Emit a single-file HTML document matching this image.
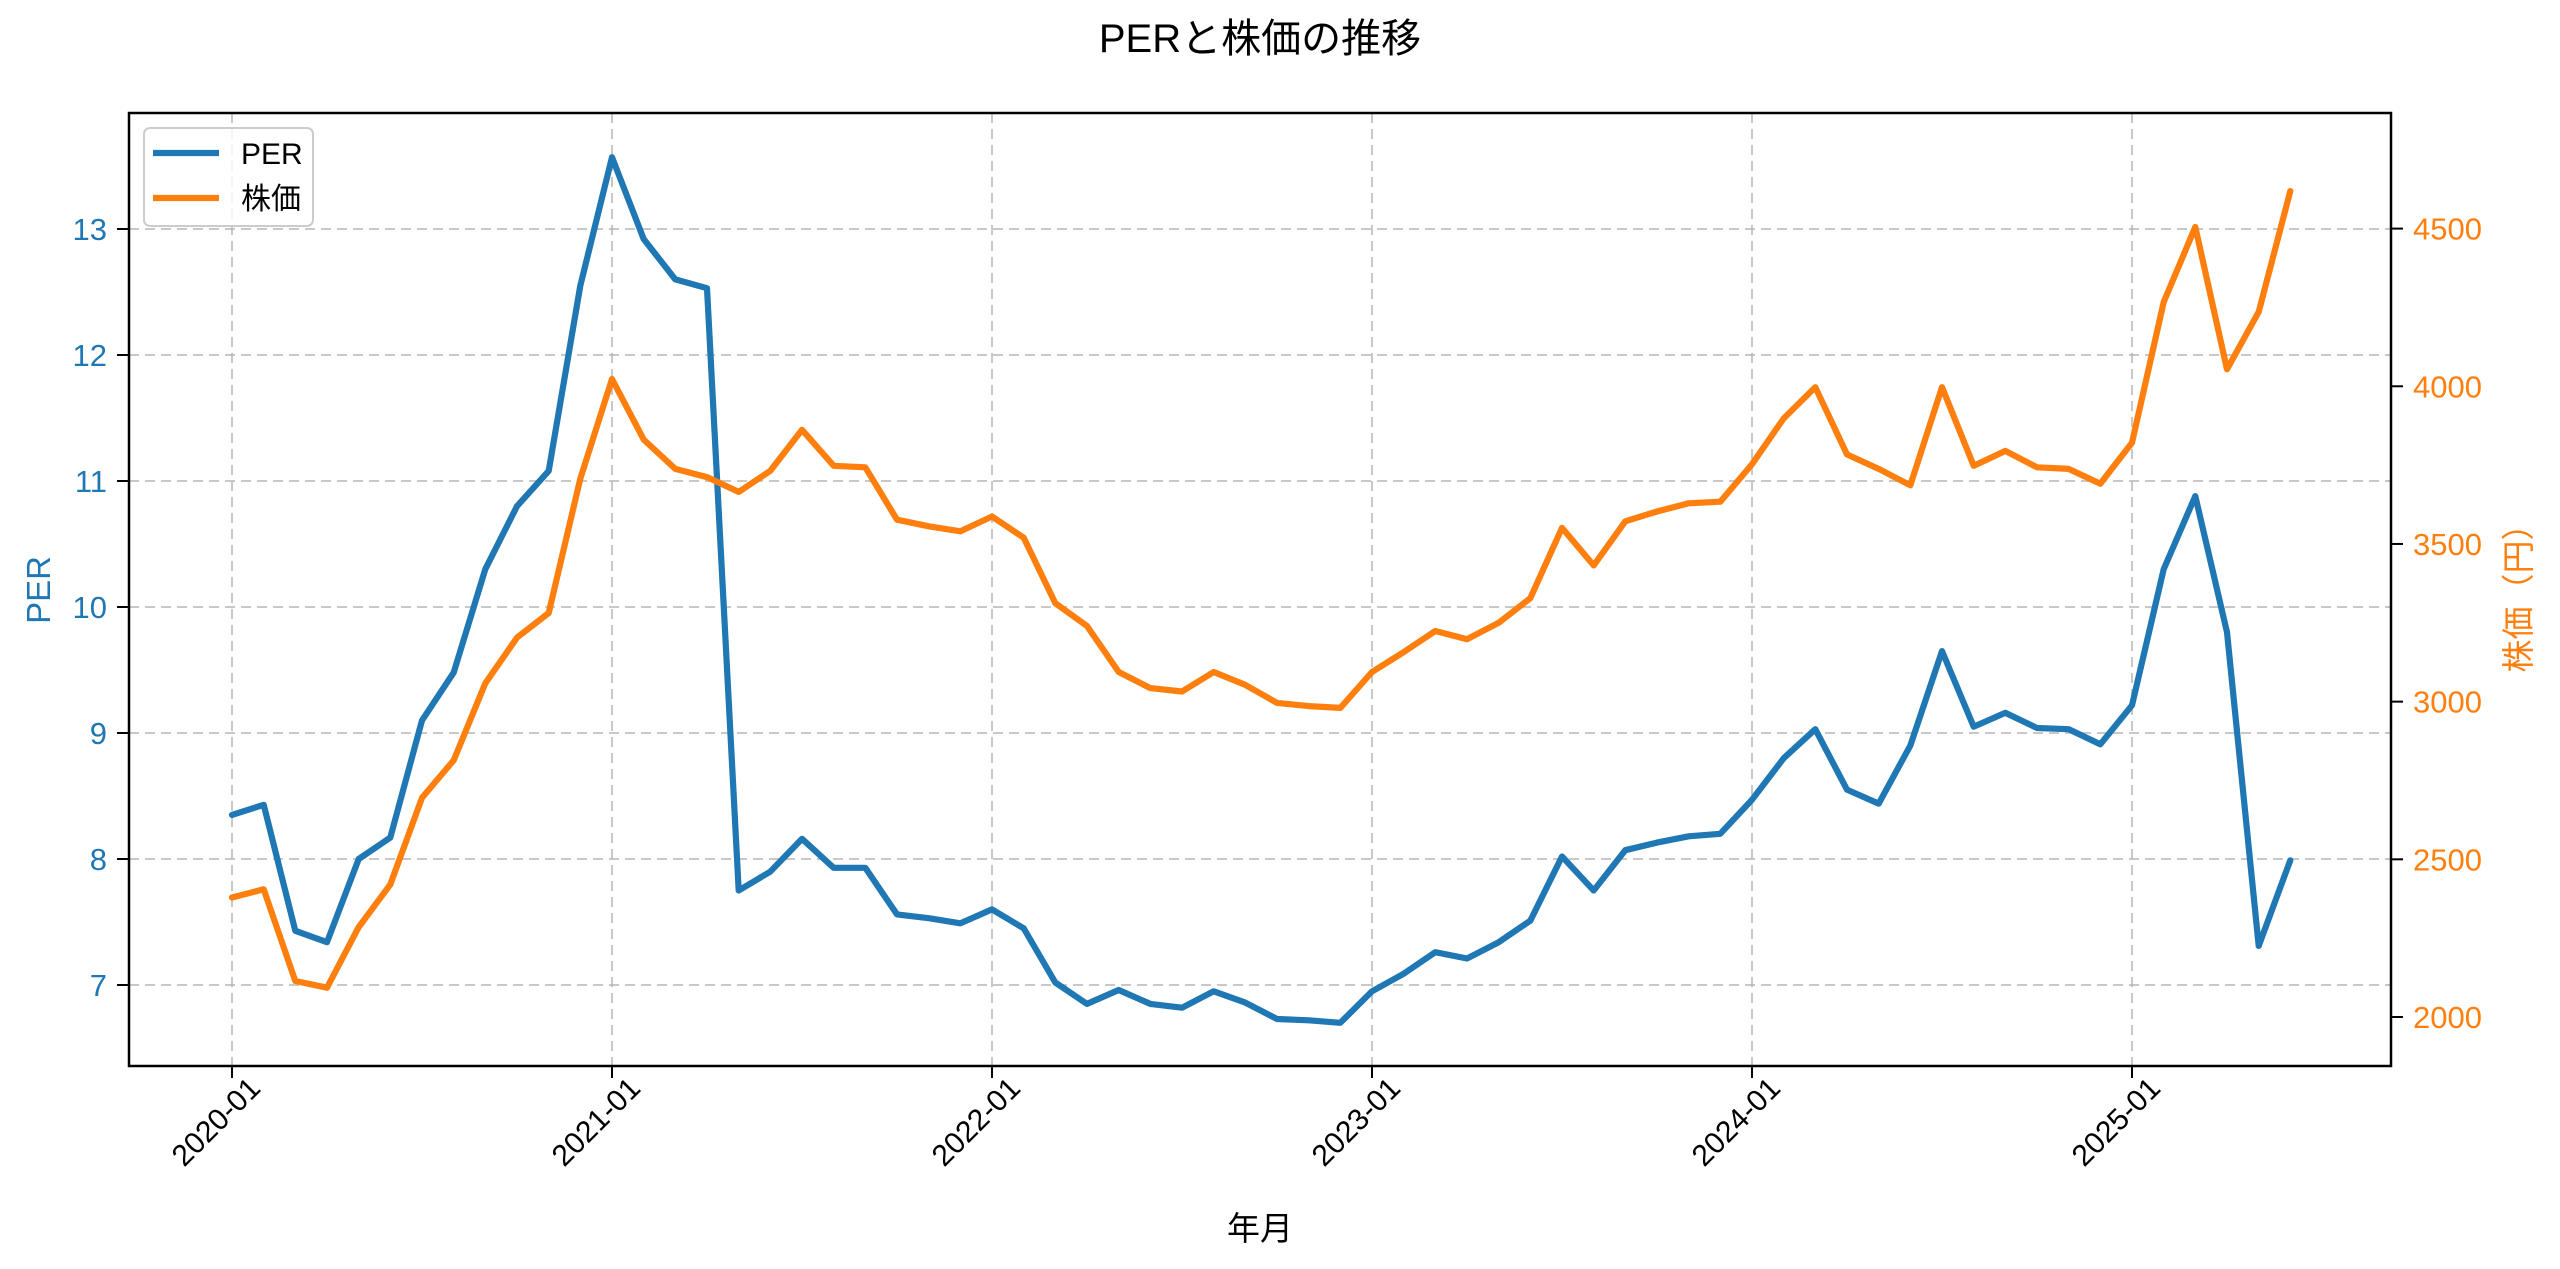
<!DOCTYPE html>
<html><head><meta charset="utf-8">
<style>
html,body{margin:0;padding:0;background:#fff;}
svg{display:block;font-family:"Liberation Sans","Noto Sans CJK JP",sans-serif;}
</style></head>
<body>
<svg id="chart" width="2560" height="1269" viewBox="0 0 2560 1269" xmlns="http://www.w3.org/2000/svg">
<rect x="0" y="0" width="2560" height="1269" fill="#fff"/>
<text x="1260" y="52" font-size="40" text-anchor="middle" fill="#000">PERと株価の推移</text>
<g id="grid"></g>
<g id="series"></g>
<g id="axes"></g>
<rect x="129" y="113" width="2262" height="953" fill="none" stroke="#000" stroke-width="2.5"/>
<text x="1260" y="1240" font-size="33" text-anchor="middle" fill="#000">年月</text>
<text transform="translate(50,590) rotate(-90)" font-size="33" text-anchor="middle" fill="#1f77b4">PER</text>
<text transform="translate(2530,590) rotate(-90)" font-size="33" text-anchor="middle" fill="#ff7f0e">株価（円）</text>
<g>
<rect x="144" y="128" width="169" height="98" rx="6" fill="#fff" fill-opacity="0.8" stroke="#ccc" stroke-width="2"/>
<line x1="153" y1="153" x2="219" y2="153" stroke="#1f77b4" stroke-width="6.2"/>
<text x="241" y="164" font-size="30" fill="#000">PER</text>
<line x1="153" y1="198" x2="219" y2="198" stroke="#ff7f0e" stroke-width="6.2"/>
<text x="241" y="209" font-size="30" fill="#000">株価</text>
</g>
</svg>
<script>
const months = ["2020-01","2020-02","2020-03","2020-04","2020-05","2020-06","2020-07","2020-08","2020-09","2020-10","2020-11","2020-12",
"2021-01","2021-02","2021-03","2021-04","2021-05","2021-06","2021-07","2021-08","2021-09","2021-10","2021-11","2021-12",
"2022-01","2022-02","2022-03","2022-04","2022-05","2022-06","2022-07","2022-08","2022-09","2022-10","2022-11","2022-12",
"2023-01","2023-02","2023-03","2023-04","2023-05","2023-06","2023-07","2023-08","2023-09","2023-10","2023-11","2023-12",
"2024-01","2024-02","2024-03","2024-04","2024-05","2024-06","2024-07","2024-08","2024-09","2024-10","2024-11","2024-12",
"2025-01","2025-02","2025-03","2025-04","2025-05","2025-06"];
const perValues = [8.35,8.43,7.43,7.34,8.0,8.17,9.1,9.48,10.3,10.8,11.08,12.55,
13.57,12.92,12.6,12.53,7.75,7.9,8.16,7.93,7.93,7.56,7.53,7.49,
7.6,7.45,7.02,6.85,6.96,6.85,6.82,6.95,6.86,6.73,6.72,6.7,
6.95,7.09,7.26,7.21,7.34,7.51,8.02,7.75,8.07,8.13,8.18,8.2,
8.47,8.8,9.03,8.55,8.44,8.9,9.65,9.05,9.16,9.04,9.03,8.91,
9.22,10.3,10.88,9.8,7.31,7.99];
const priceValues = [2379,2405,2114,2093,2285,2420,2695,2814,3058,3203,3281,3707,
4023,3831,3738,3712,3665,3732,3862,3748,3743,3577,3556,3540,
3587,3520,3312,3240,3094,3043,3032,3094,3053,2996,2986,2980,
3094,3157,3224,3198,3250,3328,3551,3432,3572,3603,3629,3634,
3753,3898,3997,3784,3738,3686,3997,3748,3795,3743,3738,3691,
3821,4267,4505,4054,4236,4619];
const xTickLabels = ["2020-01","2021-01","2022-01","2023-01","2024-01","2025-01"];
const perTicks = [7,8,9,10,11,12,13];
const priceTicks = [2000,2500,3000,3500,4000,4500];

const L=129,R=2391,T=113,B=1066;
function xScale(i){return 232 + i*(380/12);}
function xOfLabel(lbl){return xScale(months.indexOf(lbl));}
function yPer(v){return 229 + (13 - v)*126;}
function yPrice(v){return 228.6 + (4500 - v)*(788.4/2500);}
const NS="http://www.w3.org/2000/svg";
function mk(tag,attrs,parent){const e=document.createElementNS(NS,tag);for(const k in attrs)e.setAttribute(k,attrs[k]);parent.appendChild(e);return e;}
const grid=document.getElementById('grid'),axes=document.getElementById('axes'),series=document.getElementById('series');
const gs={stroke:"#b0b0b0","stroke-width":2,"stroke-dasharray":"10,6","stroke-opacity":0.7};

xTickLabels.forEach(lbl=>{
  const x=xOfLabel(lbl);
  const g=mk('line',Object.assign({x1:x,x2:x,y1:T,y2:B},gs),grid);
  
  
  const t=mk('line',{x1:x,x2:x,y1:B,y2:B+12,stroke:"#000","stroke-width":2},axes);
  
  
  const tx=mk('text',{transform:`translate(${x+30},${B+24}) rotate(-45)`,"font-size":30,"text-anchor":"end",fill:"#000"},axes);
  tx.textContent=lbl;
  
  
});
perTicks.forEach(v=>{
  const y=yPer(v);
  const g=mk('line',Object.assign({x1:L,x2:R,y1:y,y2:y},gs),grid);
  
  
  const t=mk('line',{x1:L-12,x2:L,y1:y,y2:y,stroke:"#000","stroke-width":2},axes);
  
  
  const tx=mk('text',{x:L-22,y:y+11,"font-size":31,"text-anchor":"end",fill:"#1f77b4"},axes);
  tx.textContent=v;
  
  
});
priceTicks.forEach(v=>{
  const y=yPrice(v);
  const t=mk('line',{x1:R,x2:R+12,y1:y,y2:y,stroke:"#000","stroke-width":2},axes);
  
  
  const tx=mk('text',{x:R+22,y:y+11,"font-size":31,"text-anchor":"start",fill:"#ff7f0e"},axes);
  tx.textContent=v;
  
  
});
const perPts=perValues.map((v,i)=>xScale(i).toFixed(1)+","+yPer(v).toFixed(1)).join(" ");
const pl=mk('polyline',{points:perPts,fill:"none",stroke:"#1f77b4","stroke-width":6.2,"stroke-linejoin":"round","stroke-linecap":"round"},series);


const prPts=priceValues.map((v,i)=>xScale(i).toFixed(1)+","+yPrice(v).toFixed(1)).join(" ");
const pr=mk('polyline',{points:prPts,fill:"none",stroke:"#ff7f0e","stroke-width":6.2,"stroke-linejoin":"round","stroke-linecap":"round"},series);


</script>
</body></html>
